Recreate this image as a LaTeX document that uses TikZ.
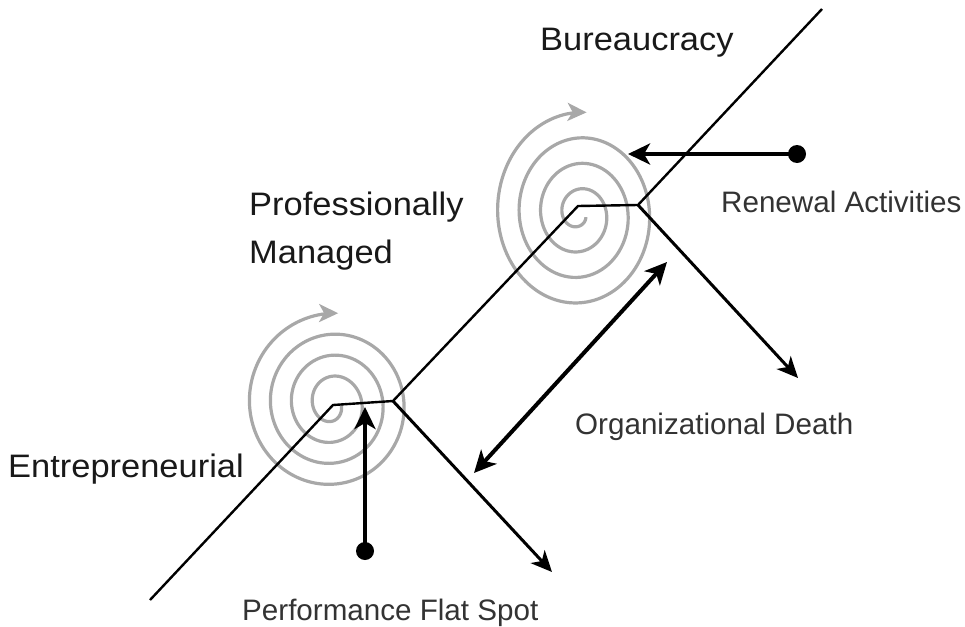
\documentclass[tikz,border=0pt]{standalone}
\usepackage{fontspec}
\setmainfont{Liberation Sans}
\newfontfamily\bigfont[FakeStretch=1.06]{Liberation Sans}
\usetikzlibrary{arrows.meta}
\definecolor{spiralgray}{HTML}{A8A8A8}
\definecolor{labelgray}{HTML}{333333}
\begin{document}
\begin{tikzpicture}[x=1pt,y=-1pt,
  big/.style={font=\bigfont\fontsize{32.5}{38}\selectfont, anchor=base west, inner sep=0pt, text=black!90},
  small/.style={font=\fontsize{29.6}{34}\selectfont, anchor=base west, inner sep=0pt, text=labelgray},
  stage/.style={line width=2.4pt, line join=miter},
  decline/.style={line width=3pt, -{Stealth[length=21pt,width=19pt,inset=6pt]}},
  force/.style={line width=4pt, -{Stealth[length=22pt,width=21pt,inset=6pt]}},
  dot/.style={circle, fill=black, inner sep=0pt, minimum size=18pt},
  spiral/.style={spiralgray, line width=3.2pt, {Stealth[length=19pt,width=18pt,inset=5pt]}-}
]
\useasboundingbox (0,0) rectangle (965,626);

% spirals
\draw[spiral] plot[domain=0:3.75, samples=300, smooth, variable=\s]
  ({332 + (88-21*\s)*cos(-86-360*\s)}, {404 + (91-21*\s)*sin(-86-360*\s)});
\draw[spiral] plot[domain=0:3.7, samples=300, smooth, variable=\s]
  ({579 + (87-21.5*\s)*cos(-85-360*\s)}, {214 + (87-21.5*\s + 15*(1-\s/3.7))*sin(-85-360*\s)});

% main path
\coordinate (s0) at (150,600);
\coordinate (c1) at (333,405);
\coordinate (f1) at (393,401);
\coordinate (c2) at (578,206);
\coordinate (f2) at (638,205);
\coordinate (s3) at (822,9);
\coordinate (d1) at (552,572);
\coordinate (d2) at (798,378);
\draw[stage] (s0) -- (c1) -- (f1) -- (c2) -- (f2) -- (s3);
\draw[decline] (f1) -- (d1);
\draw[decline] (f2) -- (d2);

% performance flat spot
\node[dot] (pdot) at (365,551) {};
\coordinate (ptip) at (365,407);
\draw[force] (pdot.center) -- (ptip);

% renewal
\node[dot] (rdot) at (797,154) {};
\coordinate (rtip) at (628,154);
\draw[force] (rdot.center) -- (rtip);

% organizational death
\coordinate (da) at (474,473);
\coordinate (db) at (667,262);
\draw[line width=4pt, {Stealth[length=22pt,width=21pt,inset=6pt]}-{Stealth[length=22pt,width=21pt,inset=6pt]}] (da) -- (db);

% labels
\node[big] (bur) at (540,50) {Bureaucracy};
\node[big] (pro) at (249,215) {Professionally};
\node[big] (man) at (249,263) {Managed};
\node[big] (ent) at (8,477) {Entrepreneurial};
\node[small] (ren) at (721,212) {Renewal Activities};
\node[small] (org) at (575,434) {Organizational Death};
\node[small] (perf) at (242,620) {Performance Flat Spot};
\end{tikzpicture}
\end{document}
